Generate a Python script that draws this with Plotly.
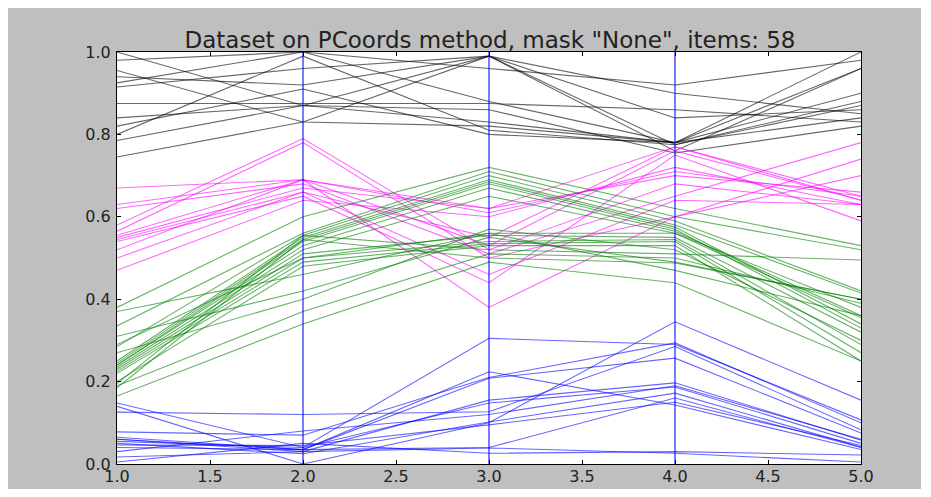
import plotly.graph_objects as go

dims = [1, 2, 3, 4, 5]
x_ticks = [1.0, 1.5, 2.0, 2.5, 3.0, 3.5, 4.0, 4.5, 5.0]
y_ticks = [0.0, 0.2, 0.4, 0.6, 0.8, 1.0]
title_text = 'Dataset on PCoords method, mask "None", items: 58'

black_rows = [
    [1.00, 0.87, 0.83, 0.78, 0.96],
    [0.98, 1.00, 0.96, 0.92, 0.98],
    [0.955, 0.83, 0.82, 0.78, 1.00],
    [0.94, 0.92, 0.99, 0.84, 0.86],
    [0.925, 1.00, 0.88, 0.78, 0.90],
    [0.915, 0.96, 0.99, 0.76, 0.96],
    [0.875, 0.875, 0.875, 0.86, 0.83],
    [0.84, 0.87, 0.99, 0.90, 0.85],
    [0.82, 0.91, 0.80, 0.78, 0.84],
    [0.80, 0.99, 0.81, 0.775, 0.88],
    [0.785, 0.87, 0.86, 0.755, 0.82],
    [0.745, 0.83, 0.99, 0.775, 0.87],
]

magenta_rows = [
    [0.67, 0.69, 0.62, 0.77, 0.64],
    [0.63, 0.69, 0.61, 0.71, 0.65],
    [0.62, 0.68, 0.51, 0.65, 0.78],
    [0.58, 0.79, 0.52, 0.68, 0.63],
    [0.565, 0.78, 0.50, 0.60, 0.70],
    [0.555, 0.69, 0.53, 0.76, 0.64],
    [0.55, 0.67, 0.62, 0.70, 0.66],
    [0.545, 0.66, 0.46, 0.64, 0.63],
    [0.54, 0.65, 0.44, 0.75, 0.59],
    [0.52, 0.69, 0.38, 0.60, 0.74],
    [0.50, 0.66, 0.55, 0.77, 0.65],
    [0.47, 0.64, 0.60, 0.72, 0.63],
]

green_rows = [
    [0.38, 0.60, 0.72, 0.62, 0.53],
    [0.37, 0.46, 0.56, 0.47, 0.36],
    [0.335, 0.56, 0.71, 0.60, 0.52],
    [0.31, 0.42, 0.55, 0.49, 0.40],
    [0.285, 0.555, 0.70, 0.59, 0.42],
    [0.27, 0.40, 0.57, 0.52, 0.30],
    [0.25, 0.55, 0.69, 0.58, 0.415],
    [0.245, 0.545, 0.685, 0.575, 0.34],
    [0.24, 0.54, 0.68, 0.57, 0.33],
    [0.24, 0.53, 0.67, 0.565, 0.36],
    [0.235, 0.52, 0.65, 0.56, 0.355],
    [0.23, 0.51, 0.555, 0.55, 0.32],
    [0.225, 0.50, 0.54, 0.545, 0.29],
    [0.22, 0.49, 0.535, 0.54, 0.27],
    [0.20, 0.48, 0.53, 0.53, 0.25],
    [0.195, 0.555, 0.52, 0.51, 0.495],
    [0.19, 0.37, 0.51, 0.50, 0.39],
    [0.185, 0.545, 0.50, 0.488, 0.40],
    [0.165, 0.34, 0.49, 0.44, 0.25],
    [0.29, 0.50, 0.56, 0.56, 0.38],
]

blue_rows = [
    [0.148, 0.04, 0.305, 0.29, 0.107],
    [0.14, 0.0, 0.10, 0.345, 0.155],
    [0.126, 0.12, 0.127, 0.285, 0.083],
    [0.078, 0.07, 0.21, 0.294, 0.10],
    [0.065, 0.035, 0.208, 0.257, 0.075],
    [0.06, 0.03, 0.155, 0.197, 0.058],
    [0.055, 0.04, 0.148, 0.187, 0.05],
    [0.05, 0.025, 0.102, 0.172, 0.041],
    [0.046, 0.045, 0.095, 0.15, 0.045],
    [0.04, 0.035, 0.224, 0.143, 0.035],
    [0.03, 0.08, 0.12, 0.19, 0.06],
    [0.017, 0.03, 0.039, 0.026, 0.005],
    [0.005, 0.05, 0.026, 0.03, 0.022],
    [0.06, 0.035, 0.04, 0.16, 0.04],
]

groups = [
    (black_rows, "rgba(0,0,0,0.6)"),
    (magenta_rows, "rgba(255,0,255,0.6)"),
    (green_rows, "rgba(0,128,0,0.6)"),
    (blue_rows, "rgba(0,0,255,0.6)"),
]

fig = go.Figure()
for rows, color in groups:
    for row in rows:
        fig.add_trace(go.Scatter(
            x=dims, y=row, mode="lines",
            line=dict(color=color, width=1.1),
            hoverinfo="skip", showlegend=False,
        ))

# parallel-coordinate axes (inner ones visible as blue verticals)
for d in dims[1:-1]:
    fig.add_trace(go.Scatter(
        x=[d, d], y=[y_ticks[0], y_ticks[-1]], mode="lines",
        line=dict(color="rgba(0,0,255,0.7)", width=1.5),
        hoverinfo="skip", showlegend=False,
    ))

# page body adds an 8px white margin around the figure
W, H = 913, 481
L, R, T, B = 109, 60, 44, 25

axis_font = dict(family="DejaVu Sans", size=16, color="#222")
fig.update_layout(
    width=W, height=H,
    margin=dict(l=L, r=R, t=T, b=B, autoexpand=False),
    paper_bgcolor="#bfbfbf",
    plot_bgcolor="white",
    title=dict(text=title_text, x=482 / W, xanchor="center",
               y=1 - 32 / H, yanchor="middle",
               font=dict(family="DejaVu Sans", size=23, color="#222")),
    xaxis=dict(range=[dims[0], dims[-1]], tickvals=x_ticks,
               ticktext=[f"{v:.1f}" for v in x_ticks],
               showgrid=False, zeroline=False, showline=True,
               linecolor="black", linewidth=1, mirror="ticks",
               ticks="inside", ticklen=4, tickcolor="black",
               tickfont=axis_font, ticklabelstandoff=-2,
               automargin=False),
    yaxis=dict(range=[y_ticks[0], y_ticks[-1]], tickvals=y_ticks,
               ticktext=[f"{v:.1f}" for v in y_ticks],
               showgrid=False, zeroline=False, showline=True,
               linecolor="black", linewidth=1, mirror="ticks",
               ticks="inside", ticklen=4, tickcolor="black",
               tickfont=axis_font, ticklabelstandoff=2,
               automargin=False),
)

fig.write_html("out.html")
